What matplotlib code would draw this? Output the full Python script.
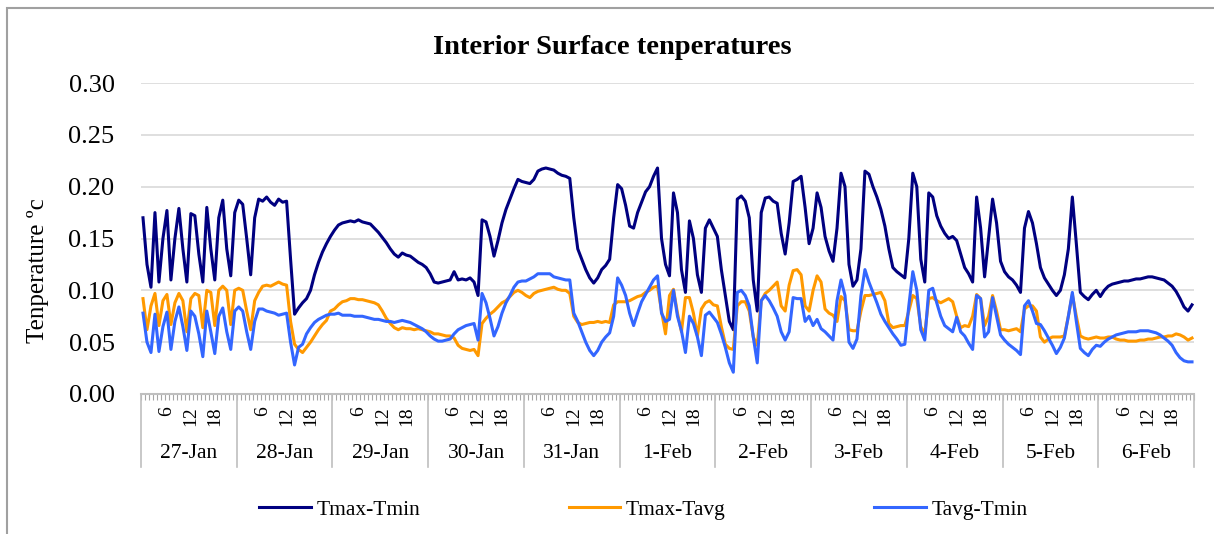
#!/usr/bin/env python
# -*- coding: utf-8 -*-
import numpy as np

import matplotlib
matplotlib.use('Agg')
from matplotlib import pyplot as plt
from matplotlib.lines import Line2D
from matplotlib.patches import Rectangle


DAYS = ['27-Jan', '28-Jan', '29-Jan', '30-Jan', '31-Jan', '1-Feb',
        '2-Feb', '3-Feb', '4-Feb', '5-Feb', '6-Feb']
HOUR_LABELS = [6, 12, 18]
SERIES_NAMES = ['Tmax-Tmin', 'Tmax-Tavg', 'Tavg-Tmin']

# hourly readings, two lines per day (h0 .. h23)
TMAX_TMIN = [
    0.170, 0.125, 0.103, 0.175, 0.108, 0.150, 0.177, 0.110, 0.150, 0.179, 0.140, 0.108,
    0.174, 0.172, 0.135, 0.108, 0.180, 0.140, 0.110, 0.170, 0.187, 0.140, 0.114, 0.175,
    0.187, 0.183, 0.150, 0.115, 0.170, 0.188, 0.186, 0.190, 0.185, 0.182, 0.188, 0.185,
    0.186, 0.130, 0.077, 0.083, 0.088, 0.092, 0.100, 0.115, 0.127, 0.137, 0.145, 0.152,
    0.158, 0.163, 0.165, 0.166, 0.167, 0.166, 0.168, 0.166, 0.165, 0.164, 0.160, 0.156,
    0.151, 0.146, 0.140, 0.135, 0.132, 0.136, 0.134, 0.133, 0.130, 0.127, 0.125, 0.122,
    0.116, 0.108, 0.107, 0.108, 0.109, 0.110, 0.118, 0.110, 0.111, 0.110, 0.112, 0.108,
    0.095, 0.168, 0.166, 0.152, 0.133, 0.148, 0.165, 0.178, 0.188, 0.198, 0.207, 0.205,
    0.204, 0.203, 0.207, 0.215, 0.217, 0.218, 0.217, 0.216, 0.213, 0.211, 0.210, 0.208,
    0.170, 0.140, 0.130, 0.120, 0.112, 0.107, 0.112, 0.120, 0.124, 0.130, 0.170, 0.202,
    0.198, 0.182, 0.162, 0.160, 0.175, 0.185, 0.195, 0.200, 0.210, 0.218, 0.150, 0.125,
    0.114, 0.194, 0.175, 0.120, 0.098, 0.167, 0.150, 0.115, 0.098, 0.160, 0.168, 0.160,
    0.152, 0.120, 0.095, 0.070, 0.062, 0.188, 0.191, 0.186, 0.170, 0.110, 0.080, 0.175,
    0.189, 0.190, 0.186, 0.184, 0.155, 0.135, 0.165, 0.205, 0.207, 0.210, 0.180, 0.145,
    0.160, 0.194, 0.180, 0.152, 0.138, 0.128, 0.160, 0.213, 0.200, 0.125, 0.104, 0.110,
    0.140, 0.215, 0.212, 0.200, 0.190, 0.178, 0.162, 0.140, 0.122, 0.118, 0.115, 0.112,
    0.150, 0.213, 0.200, 0.130, 0.108, 0.194, 0.190, 0.172, 0.162, 0.155, 0.150, 0.152,
    0.148, 0.135, 0.122, 0.116, 0.108, 0.190, 0.160, 0.113, 0.150, 0.188, 0.165, 0.128,
    0.118, 0.113, 0.110, 0.105, 0.098, 0.160, 0.176, 0.165, 0.145, 0.122, 0.112, 0.106,
    0.100, 0.095, 0.100, 0.115, 0.140, 0.190, 0.145, 0.098, 0.094, 0.091, 0.096, 0.100,
    0.094, 0.100, 0.104, 0.106, 0.107, 0.108, 0.109, 0.109, 0.110, 0.111, 0.111, 0.112,
    0.113, 0.113, 0.112, 0.111, 0.110, 0.107, 0.104, 0.099, 0.092, 0.084, 0.080, 0.086,
]

TMAX_TAVG = [
    0.092, 0.062, 0.085, 0.097, 0.066, 0.090, 0.096, 0.067, 0.088, 0.097, 0.090, 0.060,
    0.092, 0.097, 0.095, 0.064, 0.100, 0.098, 0.066, 0.100, 0.104, 0.100, 0.067, 0.100,
    0.102, 0.100, 0.080, 0.062, 0.090, 0.098, 0.104, 0.105, 0.104, 0.106, 0.108, 0.106,
    0.105, 0.070, 0.048, 0.043, 0.040, 0.045, 0.050, 0.056, 0.062, 0.067, 0.071, 0.080,
    0.082, 0.086, 0.089, 0.090, 0.092, 0.092, 0.091, 0.091, 0.090, 0.089, 0.088, 0.086,
    0.080, 0.073, 0.068, 0.064, 0.062, 0.064, 0.063, 0.063, 0.062, 0.063, 0.062, 0.061,
    0.060, 0.058, 0.058, 0.057, 0.056, 0.056, 0.054, 0.047, 0.044, 0.043, 0.042, 0.043,
    0.037, 0.068, 0.073, 0.077, 0.080, 0.084, 0.088, 0.090, 0.094, 0.098, 0.100, 0.098,
    0.095, 0.093, 0.097, 0.099, 0.100, 0.101, 0.102, 0.103, 0.101, 0.100, 0.100, 0.097,
    0.075, 0.069, 0.067, 0.068, 0.069, 0.069, 0.070, 0.069, 0.070, 0.069, 0.086, 0.089,
    0.089, 0.089, 0.090, 0.092, 0.094, 0.095, 0.098, 0.100, 0.103, 0.104, 0.080, 0.058,
    0.095, 0.101, 0.078, 0.060, 0.093, 0.093, 0.078, 0.056, 0.082, 0.088, 0.090, 0.086,
    0.085, 0.065, 0.048, 0.044, 0.043, 0.085, 0.089, 0.089, 0.080, 0.055, 0.047, 0.090,
    0.097, 0.100, 0.104, 0.108, 0.085, 0.080, 0.105, 0.119, 0.120, 0.115, 0.085, 0.080,
    0.100, 0.114, 0.108, 0.082, 0.078, 0.076, 0.070, 0.094, 0.090, 0.062, 0.061, 0.061,
    0.080, 0.095, 0.095, 0.096, 0.097, 0.098, 0.090, 0.068, 0.064, 0.065, 0.066, 0.066,
    0.080, 0.095, 0.092, 0.065, 0.058, 0.092, 0.093, 0.090, 0.088, 0.090, 0.092, 0.089,
    0.075, 0.064, 0.066, 0.065, 0.075, 0.096, 0.092, 0.066, 0.075, 0.095, 0.080, 0.062,
    0.062, 0.061, 0.062, 0.063, 0.060, 0.082, 0.085, 0.085, 0.080, 0.055, 0.050, 0.053,
    0.055, 0.055, 0.055, 0.056, 0.075, 0.096, 0.075, 0.056, 0.054, 0.053, 0.054, 0.055,
    0.054, 0.054, 0.055, 0.055, 0.053, 0.052, 0.052, 0.051, 0.051, 0.051, 0.052, 0.052,
    0.053, 0.053, 0.054, 0.055, 0.055, 0.056, 0.056, 0.058, 0.057, 0.055, 0.052, 0.054,
]

TAVG_TMIN = [
    0.078, 0.050, 0.040, 0.077, 0.041, 0.065, 0.079, 0.043, 0.070, 0.084, 0.065, 0.042,
    0.080, 0.075, 0.058, 0.036, 0.080, 0.060, 0.039, 0.075, 0.083, 0.060, 0.043, 0.080,
    0.084, 0.080, 0.060, 0.043, 0.070, 0.082, 0.082, 0.080, 0.079, 0.078, 0.076, 0.077,
    0.078, 0.050, 0.028, 0.045, 0.048, 0.058, 0.064, 0.069, 0.072, 0.074, 0.076, 0.077,
    0.077, 0.078, 0.076, 0.076, 0.076, 0.075, 0.075, 0.075, 0.074, 0.073, 0.072, 0.072,
    0.071, 0.070, 0.070, 0.069, 0.070, 0.071, 0.070, 0.069, 0.067, 0.065, 0.063, 0.060,
    0.056, 0.053, 0.051, 0.051, 0.052, 0.053, 0.058, 0.062, 0.064, 0.066, 0.067, 0.068,
    0.052, 0.097, 0.088, 0.073, 0.056, 0.065, 0.078, 0.088, 0.095, 0.103, 0.108, 0.109,
    0.109, 0.111, 0.113, 0.116, 0.116, 0.116, 0.116, 0.113, 0.112, 0.111, 0.110, 0.110,
    0.078, 0.070, 0.060, 0.050, 0.042, 0.037, 0.042, 0.050, 0.055, 0.059, 0.075, 0.112,
    0.105, 0.095, 0.078, 0.066, 0.078, 0.089, 0.096, 0.103, 0.110, 0.114, 0.078, 0.070,
    0.072, 0.100, 0.075, 0.061, 0.040, 0.075, 0.068, 0.055, 0.037, 0.076, 0.079, 0.074,
    0.069, 0.058, 0.045, 0.030, 0.021, 0.098, 0.100, 0.095, 0.085, 0.055, 0.030, 0.090,
    0.095, 0.090, 0.083, 0.075, 0.060, 0.052, 0.060, 0.093, 0.092, 0.092, 0.070, 0.075,
    0.066, 0.072, 0.063, 0.060, 0.056, 0.052, 0.090, 0.110, 0.095, 0.050, 0.044, 0.053,
    0.095, 0.120, 0.108, 0.098, 0.088, 0.077, 0.070, 0.064, 0.058, 0.053, 0.047, 0.048,
    0.085, 0.118, 0.100, 0.062, 0.052, 0.100, 0.102, 0.088, 0.075, 0.066, 0.063, 0.060,
    0.074, 0.060, 0.056, 0.049, 0.043, 0.095, 0.092, 0.055, 0.060, 0.093, 0.075, 0.057,
    0.052, 0.048, 0.045, 0.042, 0.038, 0.085, 0.090, 0.080, 0.068, 0.067, 0.061, 0.054,
    0.047, 0.039, 0.045, 0.054, 0.075, 0.098, 0.070, 0.044, 0.040, 0.037, 0.043, 0.047,
    0.046, 0.050, 0.053, 0.055, 0.057, 0.058, 0.059, 0.060, 0.060, 0.060, 0.061, 0.061,
    0.061, 0.060, 0.059, 0.057, 0.054, 0.051, 0.047, 0.040, 0.035, 0.032, 0.031, 0.031,
]

COLORS = ['#000080', '#FF9900', '#3366FF']
SERIF = ['Liberation Serif', 'DejaVu Serif']


def _draw_category_axis(ax, n_hours):
    # two-level category axis like the spreadsheet one: hours on top, days below
    trans = ax.get_xaxis_transform()
    for d, day in enumerate(DAYS):
        start = d * 24 - 0.5
        ax.plot([start, start], [0, -0.235], transform=trans, color='#bfbfbf',
                linewidth=1.2, clip_on=False)
        for h in HOUR_LABELS:
            ax.text(d * 24 + h, -0.04, str(h), transform=trans, rotation=90,
                    ha='center', va='top', fontsize=14, family=SERIF)
        ax.text(d * 24 + 11.5, -0.192, day, transform=trans, ha='center',
                va='center', fontsize=15.5, family=SERIF)
    ax.plot([n_hours - 0.5, n_hours - 0.5], [0, -0.235], transform=trans,
            color='#bfbfbf', linewidth=1.2, clip_on=False)


def main():
    series = [TMAX_TMIN, TMAX_TAVG, TAVG_TMIN]
    n_hours = len(TMAX_TMIN)
    x = np.arange(n_hours)

    fig = plt.figure(figsize=(12.14, 5.34), dpi=100)
    ax = fig.add_axes([141 / 1214, 1 - 394 / 534, 1053 / 1214, 311 / 534])

    for values, color in zip(series, COLORS):
        ax.plot(x, values, color=color, linewidth=2.2, solid_joinstyle='round')

    ax.set_xlim(-0.5, n_hours - 0.5)
    ax.set_ylim(0, 0.30)
    ax.set_yticks(np.arange(0, 0.301, 0.05))
    ax.set_yticklabels([f'{v:.2f}' for v in np.arange(0, 0.301, 0.05)],
                       family=SERIF, fontsize=19)
    ax.tick_params(axis='y', length=0, pad=19)
    ax.grid(True, axis='y', color='#d9d9d9', linewidth=1.2)
    ax.set_axisbelow(True)

    ax.set_xticks([])
    ax.set_xticks(np.arange(-0.5, n_hours, 1), minor=True)
    ax.tick_params(axis='x', which='minor', length=4, width=0.8, color='#a6a6a6')
    for side in ['top', 'right', 'left']:
        ax.spines[side].set_visible(False)
    ax.spines['bottom'].set_color('#bfbfbf')
    ax.spines['bottom'].set_linewidth(1.5)

    _draw_category_axis(ax, n_hours)

    fig.text(612 / 1214, 1 - 47 / 534, 'Interior Surface tenperatures',
             ha='center', va='center', fontsize=20.5, fontweight='bold', family=SERIF)
    fig.text(38 / 1214, 1 - 271 / 534, 'Tenperature \u00bac', rotation=90,
             ha='center', va='center', fontsize=18, family=SERIF)

    handles = [Line2D([], [], color=c, linewidth=2.2) for c in COLORS]
    fig.legend(handles, SERIES_NAMES, loc='center', bbox_to_anchor=(0.53, 1 - 510 / 534),
               ncol=3, frameon=False, handlelength=2.4, handletextpad=0.25,
               columnspacing=6.9, prop={'family': SERIF, 'size': 15.5})

    # outer chart border, only the left and top edges fall inside the picture
    fig.patches.append(Rectangle((7 / 1214, -0.1), 1.2, 0.1 + 1 - 8 / 534,
                                 transform=fig.transFigure, fill=False,
                                 edgecolor='#a0a0a0', linewidth=1.5))

    plt.savefig('out.png', dpi=100)


if __name__ == '__main__':
    main()
